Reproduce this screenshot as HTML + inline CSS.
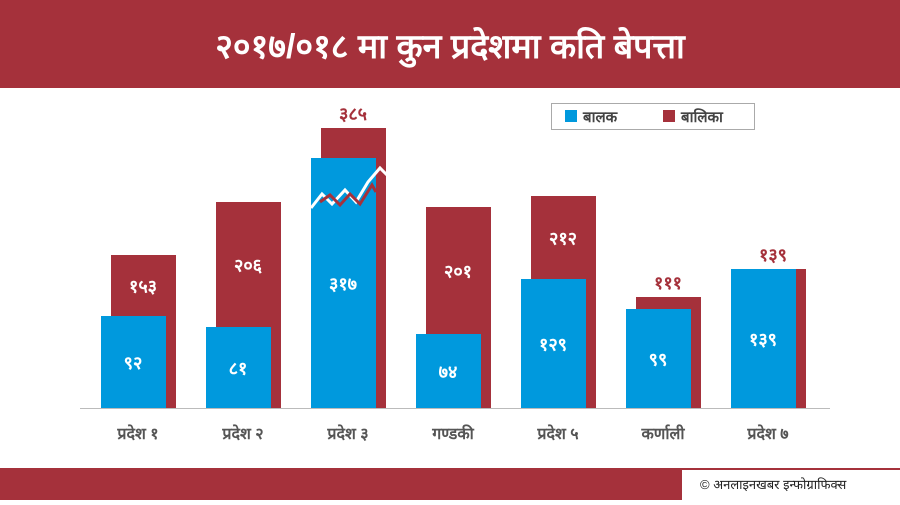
<!DOCTYPE html>
<html><head><meta charset="utf-8">
<style>
body{margin:0;width:900px;height:500px;overflow:hidden;background:#fff;font-family:"Liberation Sans","Noto Sans CJK SC",sans-serif}
</style></head><body>
<svg width="900" height="500" xmlns="http://www.w3.org/2000/svg" id="chart">
<rect x="0" y="0" width="900" height="88" fill="#a5313b"/>
<text x="450" y="58" text-anchor="middle" fill="#fff" font-size="34" font-weight="bold">२०१७/०१८ मा कुन प्रदेशमा कति बेपत्ता</text>
<g>
<rect x="551.5" y="103.5" width="203" height="26" fill="#fff" stroke="#aaa"/>
<rect x="565" y="110" width="12" height="12" fill="#0099dd"/>
<text x="583" y="122" font-size="15" fill="#444" font-weight="bold">बालक</text>
<rect x="663" y="110" width="12" height="12" fill="#a5313b"/>
<text x="681" y="122" font-size="15" fill="#444" font-weight="bold">बालिका</text>
</g>
<g id="bars"></g>
<line x1="80" y1="408.5" x2="830" y2="408.5" stroke="#bbb"/>
<rect x="0" y="468" width="900" height="32" fill="#a5313b"/>
<rect x="682" y="470" width="218" height="30" fill="#fff"/>
<text x="700" y="489" font-size="13" fill="#222">© अनलाइनखबर इन्फोग्राफिक्स</text>
</svg>
<script>
const categories=["प्रदेश १","प्रदेश २","प्रदेश ३","गण्डकी","प्रदेश ५","कर्णाली","प्रदेश ७"];
const boys=[92,81,317,74,129,99,139];
const girls=[153,206,385,201,212,111,139];
const boyLabels=["९२","८१","३१७","७४","१२९","९९","१३९"];
const girlLabels=["१५३","२०६","३८५","२०१","२१२","१११","१३९"];
const base=408;
function h(v){return v>250?250+(v-317)*30/68:v;}
function y(v){return base-h(v);}
function x(i){return 101+i*105;}
const NS="http://www.w3.org/2000/svg";
const g=document.getElementById('bars');
function mk(t,a){const e=document.createElementNS(NS,t);for(const k in a)e.setAttribute(k,a[k]);g.appendChild(e);return e;}
categories.forEach((c,i)=>{
  const r=mk('rect',{x:x(i)+10,y:y(girls[i]),width:65,height:h(girls[i]),fill:'#a5313b'});
  
  
  const b=mk('rect',{x:x(i),y:y(boys[i]),width:65,height:h(boys[i]),fill:'#0099dd'});
  
  
  const bt=mk('text',{x:x(i)+32,y:(y(boys[i])+base)/2+7,'text-anchor':'middle',fill:'#fff','font-size':18,'font-weight':'bold'});
  bt.textContent=boyLabels[i];
  
  
  const gap=y(boys[i])-y(girls[i]);
  const gy=gap>35?(y(girls[i])+y(boys[i]))/2+7:y(girls[i])-8;
  const gt=mk('text',{x:x(i)+42,y:gy,'text-anchor':'middle',fill:gap>35?'#fff':'#a5313b','font-size':18,'font-weight':'bold'});
  gt.textContent=girlLabels[i];
  
  
  const ct=mk('text',{x:x(i)+37,y:439,'text-anchor':'middle',fill:'#555','font-size':16,'font-weight':'bold'});
  ct.textContent=c;
  
  
});
const zz=mk('polyline',{points:'311,208 322,194 332,204 345,190 356,202 368,182 380,168 388,176',fill:'none',stroke:'#fff','stroke-width':3});


const zz2=mk('polyline',{points:'320,202 330,195 340,205 350,194 360,204 372,185 376,192',fill:'none',stroke:'#a5313b','stroke-width':3});


</script>
</body></html>
